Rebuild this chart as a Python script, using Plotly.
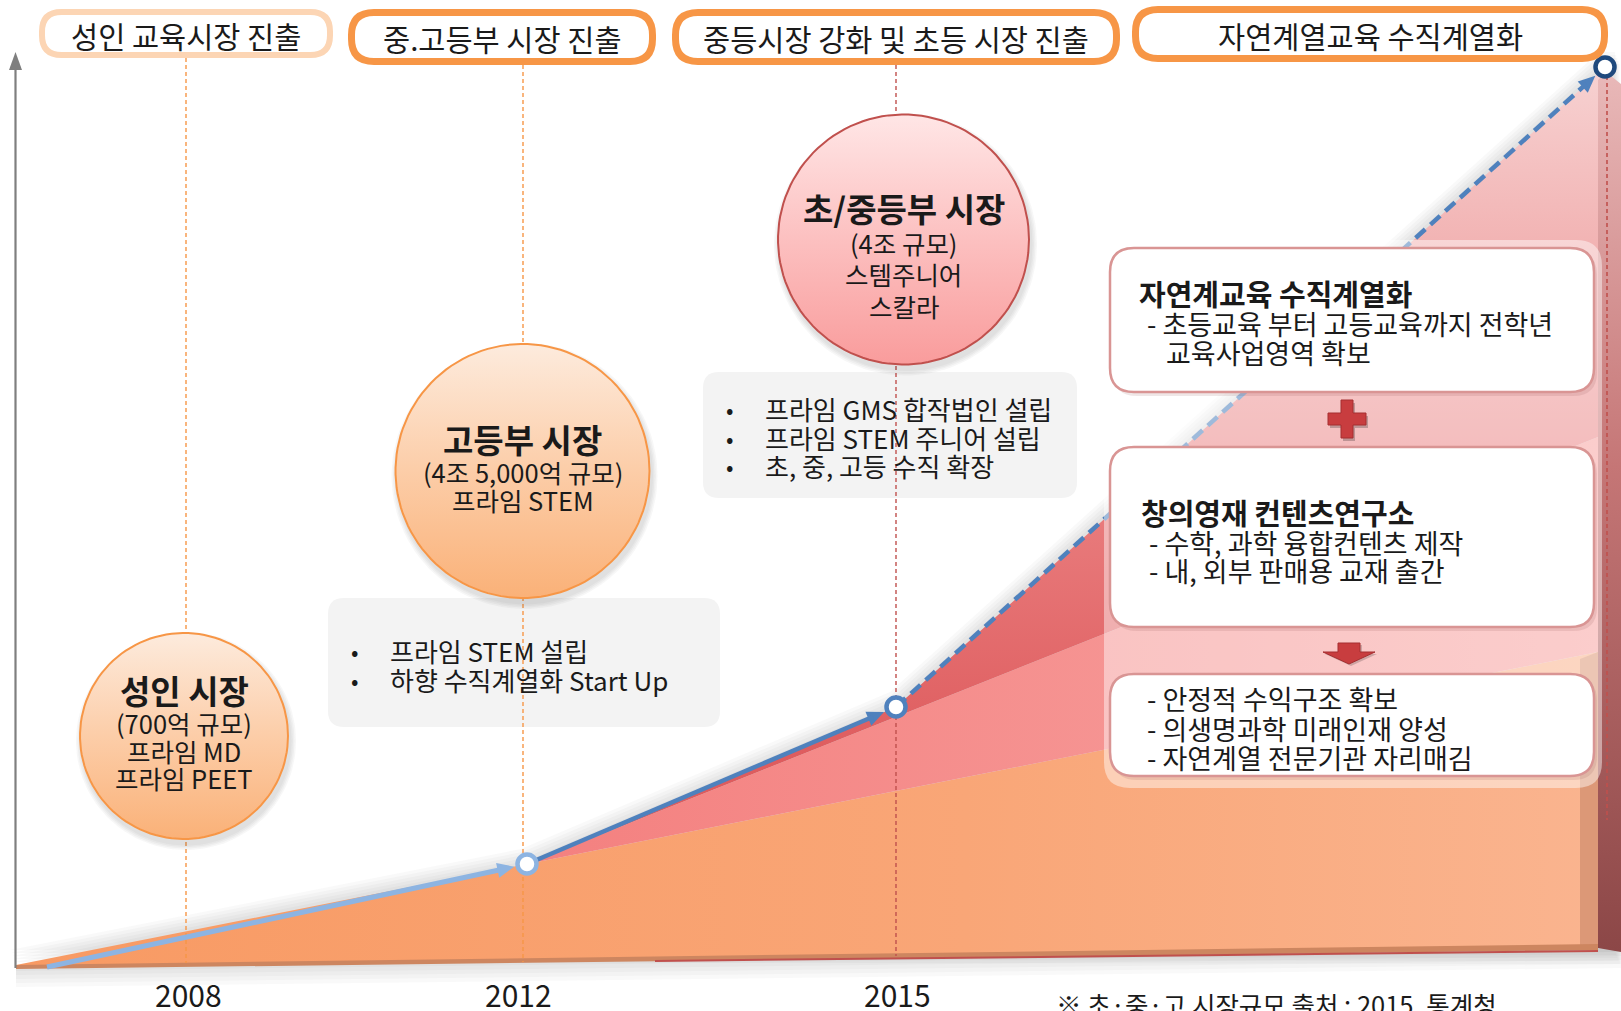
import numpy as np
import plotly.graph_objects as go

W, H = 1621, 1011
FONT = "Noto Sans CJK KR"

# ------------------------------------------------------------------ data
years = ["2008", "2012", "2015"]
year_axis_pos = [188, 518, 897]                # timeline axis positions of the year ticks
stage_banners = ["성인 교육시장 진출", "중.고등부 시장 진출",
                 "중등시장 강화 및 초등 시장 진출", "자연계열교육 수직계열화"]
# growth path: start, 2012, 2015, target (timeline units, level measured top-down)
growth_t = [47, 527, 896, 1605]
growth_level = [967, 864, 707, 67]
market_titles = ["성인 시장", "고등부 시장", "초/중등부 시장"]
market_sizes = ["(700억 규모)", "(4조 5,000억 규모)", "(4조 규모)"]
market_brands = [["프라임 MD", "프라임 PEET"], ["프라임 STEM"], ["스템주니어", "스칼라"]]
bullets_2012 = ["프라임 STEM 설립", "하향 수직계열화 Start Up"]
bullets_2015 = ["프라임 GMS 합작법인 설립", "프라임 STEM 주니어 설립", "초, 중, 고등 수직 확장"]
box1_title = "자연계교육 수직계열화"
box1_lines = ["- 초등교육 부터 고등교육까지 전학년", "  교육사업영역 확보"]
box2_title = "창의영재 컨텐츠연구소"
box2_lines = ["- 수학, 과학 융합컨텐츠 제작", "- 내, 외부 판매용 교재 출간"]
box3_lines = ["- 안정적 수익구조 확보", "- 의생명과학 미래인재 양성", "- 자연계열 전문기관 자리매김"]
footnote = "※ 초·중·고 시장규모 출처 : 2015. 통계청"

# ------------------------------------------------------------------ helpers
fig = go.Figure()
shapes = []
annotations = []


def poly(pts, color=None, grad=None, line=None, lw=0):
    xs = [p[0] for p in pts] + [pts[0][0]]
    ys = [p[1] for p in pts] + [pts[0][1]]
    kw = dict(x=xs, y=ys, mode="lines", fill="toself", hoverinfo="skip", showlegend=False,
              line=dict(width=lw, color=line or "rgba(0,0,0,0)"))
    if grad is not None:
        kw["fillgradient"] = grad
    else:
        kw["fillcolor"] = color
    fig.add_trace(go.Scatter(**kw))


def seg(xs, ys, color, width, dash=None):
    fig.add_trace(go.Scatter(x=xs, y=ys, mode="lines", hoverinfo="skip", showlegend=False,
                             line=dict(color=color, width=width, dash=dash)))


def arrowhead(tip, frm, color, L=17, Wd=15):
    d = np.array(tip, float) - np.array(frm, float)
    d /= np.linalg.norm(d)
    p = np.array([-d[1], d[0]])
    b = np.array(tip) - L * d
    pts = [tuple(tip), tuple(b + p * Wd / 2), tuple(b - p * Wd / 2)]
    poly(pts, color=color)
    return tuple(b + 0.3 * L * d)


def ellipse(cx, cy, rx, ry, n=120):
    t = np.linspace(0, 2 * np.pi, n)
    return list(zip(cx + rx * np.cos(t), cy + ry * np.sin(t)))


def rrect(x0, y0, x1, y1, r):
    return (f"M{x0+r},{y0} L{x1-r},{y0} Q{x1},{y0} {x1},{y0+r} L{x1},{y1-r} Q{x1},{y1} {x1-r},{y1} "
            f"L{x0+r},{y1} Q{x0},{y1} {x0},{y1-r} L{x0},{y0+r} Q{x0},{y0} {x0+r},{y0} Z")


def text(x, y, s, size, bold=False, xanchor="center", color="#1a1a1a"):
    annotations.append(dict(x=x, y=y, xref="x", yref="y", text=f"<b>{s}</b>" if bold else s,
                            showarrow=False, xanchor=xanchor, yanchor="middle",
                            font=dict(family=FONT, size=size, color=color)))


# ------------------------------------------------------------------ background stack (growth area)
n0, n1, n2, n3 = list(zip(growth_t, growth_level))
base_l, base_r = (16, 967), (1598, 946)

# soft shadow above the stack
for k in range(1, 6):
    off = np.array([-1.2 * k, -3.0 * k])
    pts = [tuple(np.array(p) + off) for p in [(16, 965), (n1[0], n1[1]), n2, n3, (1621, 67), (1621, 967)]]
    poly(pts, color="rgba(90,90,90,0.035)")
# shadow below the base
for k in range(1, 6):
    poly([(16, 967), (1621, 948), (1621, 948 + 4 * k), (16, 967 + 4 * k)], color="rgba(90,90,90,0.035)")

# orange layer
poly([(16, 965), n1, (1598, 652), base_r, base_l],
     grad=dict(type="horizontal", colorscale=[[0, "#F89A63"], [0.6, "#F9A677"], [1, "#FAB48F"]]))
# salmon layer
poly([n1, (1598, 437), (1598, 652)],
     grad=dict(type="horizontal", colorscale=[[0, "#F4807F"], [1, "#F7A4A2"]]))
# red / pink layer
poly([n1, n2, (1603, 69), (1598, 437)],
     grad=dict(type="vertical", start=67, stop=760,
               colorscale=[[0, "#F7D2D2"], [0.3, "#F1AEAE"], [0.6, "#EA7F80"], [1, "#DE5C5E"]]))
# orange side face
poly([(1580, 659), (1598, 652), (1598, 946), (1580, 946)], color="#DC9877")
# right side face
poly([(1598, 80), (1606, 72), (1621, 84), (1621, 952), (1598, 948)],
     grad=dict(type="vertical", start=70, stop=950,
               colorscale=[[0, "#E9B9B9"], [0.45, "#C57676"], [1, "#8C4747"]]))
# base front face
poly([(16, 965), (1598, 944), (1598, 950), (16, 969)], color="#CD8660")
seg([655, 1598], [961, 951], "#C0504D", 2)

# ------------------------------------------------------------------ vertical guide lines
seg([186, 186], [58, 963], "#F79646", 1.4, "4px,3px")
seg([523, 523], [65, 962], "#F79646", 1.4, "4px,3px")
seg([896, 896], [65, 956], "#C0504D", 1.4, "4px,3px")
seg([1607, 1607], [62, 820], "#C0504D", 1.6, "4px,3px")

# y axis arrow
seg([15.5, 15.5], [968, 68], "#7F7F7F", 2.2)
poly([(15.5, 52), (9, 70), (22, 70)], color="#7F7F7F")

# ------------------------------------------------------------------ growth path
R_NODE = 13
def node_edge(a, b):
    d = np.array(b, float) - np.array(a, float)
    d /= np.linalg.norm(d)
    return tuple(np.array(b) - R_NODE * d)

tip1 = node_edge(n0, n1)
e1 = arrowhead(tip1, n0, "#8DB4E2")
seg([n0[0], e1[0]], [n0[1], e1[1]], "#8DB4E2", 5)
tip2 = node_edge(n1, n2)
e2 = arrowhead(tip2, n1, "#4F81BD")
seg([n1[0], e2[0]], [n1[1], e2[1]], "#4F81BD", 4.5)
tip3 = node_edge(n2, n3)
e3 = arrowhead(tip3, n2, "#4F81BD")
seg([n2[0], e3[0]], [n2[1], e3[1]], "#4F81BD", 4.5, "13px,7px")

# ------------------------------------------------------------------ market circles
circles = [(184, 736, 104, 103, "orange"), (522.5, 471, 127, 127, "orange"), (903.5, 239.5, 125.5, 125, "pink")]
for (cx, cy, rx, ry, kind) in circles:
    for k in range(1, 5):
        poly(ellipse(cx + 2, cy + 5, rx + 1.5 * k, ry + 1.5 * k), color="rgba(60,60,60,0.045)")
    if kind == "orange":
        cs = [[0, "#FDEBDD"], [0.5, "#FCCDA8"], [1, "#FAB178"]]
        lc = "#F79646"
    else:
        cs = [[0, "#FFE6E6"], [0.5, "#FCC0C0"], [1, "#F99C9C"]]
        lc = "#C0504D"
    poly(ellipse(cx, cy, rx, ry), grad=dict(type="vertical", start=cy - ry, stop=cy + ry, colorscale=cs),
         line=lc, lw=2)

# nodes
fig.add_trace(go.Scatter(x=growth_t[1:], y=growth_level[1:], mode="markers", hoverinfo="skip", showlegend=False,
                         marker=dict(size=19, color="white",
                                     line=dict(width=4.5, color=["#8DB4E2", "#4F81BD", "#1F497D"]))))

# ------------------------------------------------------------------ shapes: boxes, banners
shapes.append(dict(type="path", path=rrect(328, 598, 720, 727, 16), fillcolor="#F3F3F3",
                   line=dict(width=0), layer="below", xref="x", yref="y"))
shapes.append(dict(type="path", path=rrect(703, 372, 1077, 498, 16), fillcolor="#F3F3F3",
                   line=dict(width=0), layer="below", xref="x", yref="y"))

# translucent panel behind right boxes
shapes.append(dict(type="path", path=rrect(1104, 240, 1602, 788, 26), fillcolor="rgba(255,255,255,0.45)",
                   line=dict(width=0), layer="above", xref="x", yref="y"))
for (y0, y1) in [(248, 392), (447, 627), (674, 776)]:
    shapes.append(dict(type="path", path=rrect(1113, y0 + 3, 1597, y1 + 4, 24), fillcolor="rgba(120,60,60,0.12)",
                       line=dict(width=0), layer="above", xref="x", yref="y"))
    shapes.append(dict(type="path", path=rrect(1110, y0, 1594, y1, 24), fillcolor="white",
                       line=dict(width=2.5, color="#D99594"), layer="above", xref="x", yref="y"))

# plus sign
def plus_path(cx, cy, s, t):
    a, b = s / 2, t / 2
    return (f"M{cx-b},{cy-a} L{cx+b},{cy-a} L{cx+b},{cy-b} L{cx+a},{cy-b} L{cx+a},{cy+b} L{cx+b},{cy+b} "
            f"L{cx+b},{cy+a} L{cx-b},{cy+a} L{cx-b},{cy+b} L{cx-a},{cy+b} L{cx-a},{cy-b} L{cx-b},{cy-b} Z")

shapes.append(dict(type="path", path=plus_path(1349, 422, 38, 12), fillcolor="rgba(0,0,0,0.22)",
                   line=dict(width=0), layer="above", xref="x", yref="y"))
shapes.append(dict(type="path", path=plus_path(1347, 419, 38, 12), fillcolor="#C83D3F",
                   line=dict(width=1, color="#A52F31"), layer="above", xref="x", yref="y"))
# down arrow
shapes.append(dict(type="path",
                   path="M1340,645 L1362,645 L1362,654 L1377,654 L1351,666 L1325,654 L1340,654 Z",
                   fillcolor="rgba(0,0,0,0.18)", line=dict(width=0), layer="above", xref="x", yref="y"))
shapes.append(dict(type="path",
                   path="M1338,643 L1360,643 L1360,652 L1375,652 L1349,664 L1323,652 L1338,652 Z",
                   fillcolor="#C83D3F", line=dict(width=1, color="#A52F31"), layer="above", xref="x", yref="y"))

# stage banners
banner_geo = [(42, 12, 330, 55, 6, "#FCD5B4"), (351.5, 12.5, 652.5, 61.5, 7, "#F79646"),
              (675.5, 12.5, 1116.5, 61.5, 7, "#F79646"), (1135.5, 9.5, 1604.5, 58.5, 7, "#F79646")]
for (x0, y0, x1, y1, lw, col), label in zip(banner_geo, stage_banners):
    shapes.append(dict(type="path", path=rrect(x0, y0, x1, y1, (y1 - y0) / 2 - 2), fillcolor="white",
                       line=dict(width=lw, color=col), layer="above", xref="x", yref="y"))
    text((x0 + x1) / 2, (y0 + y1) / 2 + 1, label, 29.5)

# ------------------------------------------------------------------ texts
for (cx, cy, rx, ry, kind), title, size, brands, ys in zip(
        circles, market_titles, market_sizes, market_brands,
        [[690, 722, 750, 777], [439, 471, 499], [208, 242, 273, 305]]):
    text(cx, ys[0], title, 33, bold=True)
    text(cx, ys[1], size, 25.5)
    for b, yy in zip(brands, ys[2:]):
        text(cx, yy, b, 25.5)

for s, yy in zip(bullets_2012, [650, 679]):
    text(354, yy, "•", 22)
    text(388, yy, s, 26, xanchor="left")
for s, yy in zip(bullets_2015, [408, 437, 465]):
    text(729, yy, "•", 22)
    text(763, yy, s, 26, xanchor="left")

text(1137, 293, box1_title, 29, bold=True, xanchor="left")
text(1145, 323, box1_lines[0], 27, xanchor="left")
text(1164, 352, box1_lines[1].strip(), 27, xanchor="left")
text(1139, 512, box2_title, 29, bold=True, xanchor="left")
for s, yy in zip(box2_lines, [542, 570]):
    text(1147, yy, s, 27, xanchor="left")
for s, yy in zip(box3_lines, [698, 728, 757]):
    text(1145, yy, s, 27, xanchor="left")

for y, xp in zip(years, year_axis_pos):
    text(xp, 994, y, 30)
text(1054, 1003, footnote, 25.5, xanchor="left")

fig.update_layout(
    width=W, height=H, margin=dict(l=0, r=0, t=0, b=0),
    paper_bgcolor="white", plot_bgcolor="white",
    xaxis=dict(range=[0, W], visible=False, fixedrange=True),
    yaxis=dict(range=[H, 0], visible=False, fixedrange=True),
    shapes=shapes, annotations=annotations, showlegend=False,
)
fig.write_html("out.html", config=dict(displayModeBar=False),
               post_script="document.body.style.margin='0px';document.body.style.overflow='hidden';")
